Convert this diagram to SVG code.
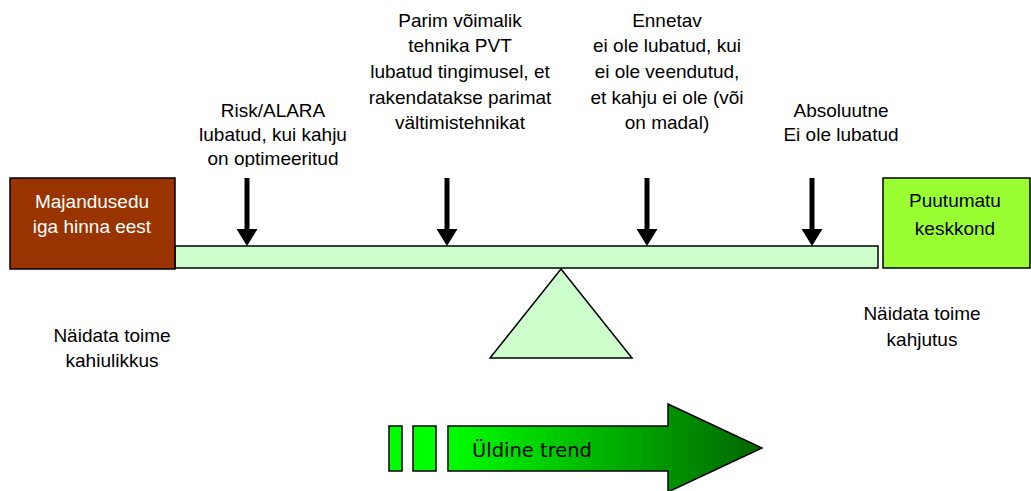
<svg xmlns="http://www.w3.org/2000/svg" width="1031" height="491" viewBox="0 0 1031 491">
<style>
.t{font-family:"Liberation Sans",Arial,sans-serif;font-size:19px;fill:#000;text-anchor:middle}
.w{fill:#fff}
.box{stroke:#000;stroke-width:1.5}
.beam{fill:#ccffcc;stroke:#000;stroke-width:1.5}
.arr{fill:#000}
.tr{fill:#00ff00;stroke:#000;stroke-width:1.5}
</style>
<defs>
<linearGradient id="g" x1="448" y1="0" x2="762" y2="0" gradientUnits="userSpaceOnUse">
<stop offset="0" stop-color="#00ff00"/>
<stop offset="1" stop-color="#006600"/>
</linearGradient>
<clipPath id="c1"><rect x="180" y="90" width="190" height="77"/></clipPath>
<clipPath id="c2"><rect x="30" y="310" width="170" height="57"/></clipPath>
</defs>

<g id="beam"><rect class="beam" x="175" y="246" width="703" height="22"/></g>
<g id="fulcrum"><polygon class="beam" points="561,269 632,358 490,358"/></g>

<g id="left-box">
<rect class="box" x="10" y="178" width="165" height="91" fill="#993300"/>
<text class="t w" x="92" y="208">Majandusedu</text>
<text class="t w" x="92" y="233">iga hinna eest</text>
</g>
<g id="right-box">
<rect class="box" x="883" y="178" width="147" height="90" fill="#99ff33"/>
<text class="t" x="955" y="207">Puutumatu</text>
<text class="t" x="955" y="235">keskkond</text>
</g>

<g id="connectors">
<path class="arr" d="M244.5,178h5v51h8l-10.5,17l-10.5,-17h8z"/>
<path class="arr" d="M444.5,178h5v51h8l-10.5,17l-10.5,-17h8z"/>
<path class="arr" d="M644.5,178h5v51h8l-10.5,17l-10.5,-17h8z"/>
<path class="arr" d="M809.5,178h5v51h8l-10.5,17l-10.5,-17h8z"/>
</g>

<g id="label-risk" clip-path="url(#c1)">
<text class="t" x="273" y="117">Risk/ALARA</text>
<text class="t" x="273" y="141">lubatud, kui kahju</text>
<text class="t" x="273" y="165">on optimeeritud</text>
</g>
<g id="label-pvt">
<text class="t" x="460" y="27">Parim võimalik</text>
<text class="t" x="460" y="52">tehnika PVT</text>
<text class="t" x="460" y="78">lubatud tingimusel, et</text>
<text class="t" x="460" y="104">rakendatakse parimat</text>
<text class="t" x="460" y="129">vältimistehnikat</text>
</g>
<g id="label-ennetav">
<text class="t" x="667" y="27">Ennetav</text>
<text class="t" x="667" y="52">ei ole lubatud, kui</text>
<text class="t" x="667" y="78">ei ole veendutud,</text>
<text class="t" x="667" y="104">et kahju ei ole (või</text>
<text class="t" x="667" y="129">on madal)</text>
</g>
<g id="label-abs">
<text class="t" x="841" y="117">Absoluutne</text>
<text class="t" x="841" y="141">Ei ole lubatud</text>
</g>

<g id="label-left-bottom" clip-path="url(#c2)">
<text class="t" x="112" y="342">Näidata toime</text>
<text class="t" x="112" y="367">kahjulikkus</text>
</g>
<g id="label-right-bottom">
<text class="t" x="922" y="320">Näidata toime</text>
<text class="t" x="922" y="346">kahjutus</text>
</g>

<g id="trend">
<rect class="tr" x="389" y="426" width="13" height="45"/>
<rect class="tr" x="413" y="426" width="23" height="45"/>
<polygon points="448,426 668,426 668,404 762,448 668,492 668,471 448,471" fill="url(#g)" stroke="#000" stroke-width="1.5"/>
<text x="472" y="457" style="font-family:'DejaVu Sans',Verdana,sans-serif;font-size:19px" textLength="120" lengthAdjust="spacingAndGlyphs">Üldine trend</text>
</g>
</svg>
